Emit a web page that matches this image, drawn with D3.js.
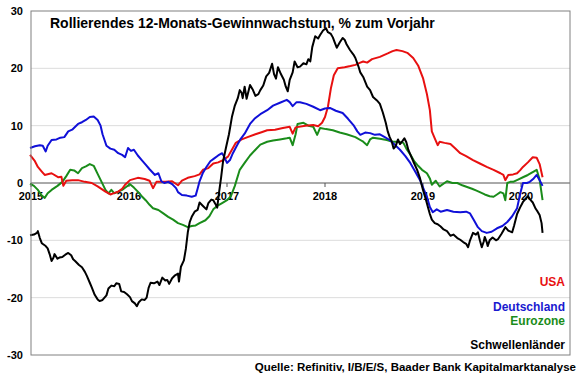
<!DOCTYPE html>
<html>
<head>
<meta charset="utf-8">
<script src="https://cdnjs.cloudflare.com/ajax/libs/d3/7.8.5/d3.min.js"></script>
<style>
  body { margin: 0; background: #fff; }
  text { font-family: "Liberation Sans", Arial, sans-serif; font-weight: bold; }
</style>
</head>
<body>
<div id="chart"></div>
<script>
// chart values, [decimal year, % yoy]
const usa = [[2014.99,4.9],[2015.04,3.8],[2015.07,2.8],[2015.11,2.0],[2015.14,1.4],[2015.21,1.7],[2015.28,1.0],[2015.31,1.1],[2015.33,-0.5],[2015.36,0.4],[2015.42,0.5],[2015.48,0.5],[2015.55,0.2],[2015.62,0.0],[2015.68,-0.6],[2015.76,-1.5],[2015.81,-2.0],[2015.84,-1.8],[2015.89,-1.5],[2015.93,-1.0],[2015.96,-0.3],[2016.01,0.5],[2016.09,0.9],[2016.16,0.7],[2016.21,0.4],[2016.245,-0.9],[2016.28,0.2],[2016.37,0.2],[2016.44,0.3],[2016.50,-0.4],[2016.54,0.4],[2016.60,0.9],[2016.67,1.2],[2016.72,1.5],[2016.755,2.3],[2016.81,2.6],[2016.86,3.4],[2016.91,3.6],[2016.96,4.0],[2017.01,4.6],[2017.05,5.8],[2017.09,7.0],[2017.15,7.6],[2017.21,8.0],[2017.29,8.5],[2017.36,8.9],[2017.41,9.2],[2017.49,9.3],[2017.57,9.6],[2017.64,9.8],[2017.67,8.6],[2017.70,9.7],[2017.80,10.0],[2017.88,10.1],[2017.93,9.9],[2017.97,10.5],[2018.00,11.5],[2018.03,13.3],[2018.06,16.5],[2018.09,18.8],[2018.13,20.0],[2018.20,20.2],[2018.26,20.4],[2018.31,20.6],[2018.36,21.0],[2018.39,21.2],[2018.43,21.0],[2018.48,21.6],[2018.56,22.0],[2018.64,22.6],[2018.69,23.0],[2018.73,23.2],[2018.79,23.0],[2018.84,22.7],[2018.90,21.8],[2018.95,20.5],[2019.00,18.3],[2019.04,15.5],[2019.07,12.7],[2019.09,9.0],[2019.12,7.8],[2019.15,6.6],[2019.17,7.2],[2019.22,7.0],[2019.28,6.8],[2019.33,6.0],[2019.38,5.2],[2019.44,4.7],[2019.51,4.0],[2019.58,3.4],[2019.65,2.8],[2019.72,2.3],[2019.79,1.7],[2019.82,1.4],[2019.84,0.5],[2019.87,1.4],[2019.92,1.5],[2019.96,1.7],[2019.99,2.2],[2020.02,2.8],[2020.07,3.6],[2020.12,4.5],[2020.16,4.4],[2020.19,3.3],[2020.22,1.0]];

const deutschland = [[2014.99,6.1],[2015.04,6.4],[2015.09,6.6],[2015.12,6.5],[2015.15,5.5],[2015.17,6.5],[2015.21,7.5],[2015.26,7.6],[2015.30,7.9],[2015.34,8.0],[2015.38,9.0],[2015.42,9.3],[2015.48,10.3],[2015.52,10.6],[2015.56,11.0],[2015.60,11.5],[2015.64,11.6],[2015.68,11.0],[2015.71,10.0],[2015.73,8.5],[2015.77,6.5],[2015.81,6.0],[2015.85,5.8],[2015.89,5.2],[2015.93,4.9],[2015.96,4.5],[2015.99,6.1],[2016.02,5.6],[2016.05,5.8],[2016.09,4.8],[2016.13,4.0],[2016.17,3.2],[2016.21,2.4],[2016.265,1.4],[2016.30,1.7],[2016.33,0.3],[2016.36,0.0],[2016.40,0.2],[2016.44,-0.2],[2016.48,-0.9],[2016.50,-1.6],[2016.54,-2.1],[2016.59,-2.2],[2016.64,-2.4],[2016.68,-2.2],[2016.70,-1.0],[2016.72,0.3],[2016.755,1.8],[2016.79,2.8],[2016.83,3.8],[2016.87,4.3],[2016.91,4.8],[2016.95,5.2],[2016.97,4.6],[2017.00,3.5],[2017.03,4.0],[2017.06,5.2],[2017.10,6.5],[2017.14,7.7],[2017.18,8.6],[2017.235,10.3],[2017.28,11.2],[2017.34,12.0],[2017.41,12.7],[2017.47,13.5],[2017.54,14.0],[2017.61,14.5],[2017.64,14.1],[2017.67,13.4],[2017.71,14.1],[2017.745,14.1],[2017.81,13.8],[2017.88,13.3],[2017.95,12.7],[2018.00,13.0],[2018.05,13.1],[2018.11,12.6],[2018.18,12.2],[2018.235,11.2],[2018.29,10.1],[2018.33,9.0],[2018.36,8.4],[2018.41,8.8],[2018.46,8.7],[2018.51,8.4],[2018.56,8.5],[2018.61,8.0],[2018.66,7.5],[2018.71,6.7],[2018.765,5.8],[2018.82,4.7],[2018.87,3.5],[2018.92,2.0],[2018.97,0.5],[2019.01,-1.2],[2019.04,-2.4],[2019.07,-4.2],[2019.10,-5.1],[2019.14,-4.6],[2019.18,-5.0],[2019.245,-4.7],[2019.31,-5.0],[2019.38,-5.1],[2019.44,-5.0],[2019.48,-5.3],[2019.52,-6.5],[2019.56,-7.7],[2019.60,-8.4],[2019.65,-8.7],[2019.70,-8.5],[2019.755,-7.9],[2019.81,-7.5],[2019.86,-6.8],[2019.91,-5.8],[2019.96,-4.4],[2019.99,-2.0],[2020.02,0.0],[2020.06,0.0],[2020.09,0.2],[2020.13,0.8],[2020.16,1.4],[2020.19,0.5],[2020.22,-0.5]];

const eurozone = [[2014.99,-0.1],[2015.03,-0.5],[2015.07,-1.2],[2015.11,-2.2],[2015.14,-2.6],[2015.17,-1.8],[2015.21,-1.2],[2015.27,-0.5],[2015.32,0.2],[2015.36,1.2],[2015.40,2.3],[2015.44,2.2],[2015.48,1.7],[2015.52,2.6],[2015.56,2.9],[2015.60,3.3],[2015.64,3.0],[2015.68,1.6],[2015.72,0.2],[2015.76,-1.2],[2015.79,-1.8],[2015.82,-1.2],[2015.85,-1.8],[2015.89,-1.5],[2015.93,-1.2],[2015.97,-0.7],[2016.01,-0.2],[2016.05,-0.8],[2016.09,-1.5],[2016.13,-2.3],[2016.17,-3.0],[2016.21,-3.8],[2016.245,-4.4],[2016.30,-4.7],[2016.35,-5.3],[2016.40,-5.9],[2016.45,-6.4],[2016.50,-7.0],[2016.55,-7.3],[2016.60,-7.7],[2016.64,-7.5],[2016.68,-7.4],[2016.72,-7.0],[2016.78,-6.5],[2016.82,-5.8],[2016.86,-4.6],[2016.90,-4.0],[2016.95,-3.5],[2017.00,-3.0],[2017.04,-2.3],[2017.08,-0.5],[2017.13,2.3],[2017.18,3.5],[2017.235,4.8],[2017.29,5.8],[2017.34,6.7],[2017.41,7.2],[2017.47,7.4],[2017.54,7.6],[2017.61,7.8],[2017.64,7.9],[2017.67,6.6],[2017.70,8.5],[2017.72,10.3],[2017.78,10.5],[2017.83,10.0],[2017.88,9.8],[2017.92,8.4],[2017.95,9.6],[2018.01,9.4],[2018.08,9.2],[2018.15,8.8],[2018.22,8.5],[2018.31,8.0],[2018.36,7.5],[2018.39,7.2],[2018.43,6.6],[2018.46,7.6],[2018.49,7.9],[2018.56,7.7],[2018.63,7.5],[2018.69,7.2],[2018.745,7.2],[2018.80,7.0],[2018.83,6.0],[2018.87,5.0],[2018.91,3.8],[2018.95,3.0],[2018.99,2.3],[2019.04,1.7],[2019.07,0.8],[2019.09,-0.3],[2019.13,0.4],[2019.17,-0.6],[2019.245,0.3],[2019.30,0.0],[2019.35,0.0],[2019.40,-0.4],[2019.45,-0.7],[2019.50,-1.0],[2019.54,-1.3],[2019.58,-1.6],[2019.63,-2.0],[2019.68,-2.3],[2019.72,-2.4],[2019.755,-2.0],[2019.79,-1.6],[2019.82,-1.8],[2019.84,-3.0],[2019.86,0.0],[2019.89,0.2],[2019.92,0.2],[2019.97,0.6],[2020.02,1.0],[2020.07,1.4],[2020.12,1.9],[2020.16,2.3],[2020.19,0.6],[2020.22,-3.0]];

const schwellen = [[2014.99,-9.1],[2015.03,-9.0],[2015.06,-8.7],[2015.07,-8.4],[2015.09,-9.6],[2015.11,-10.5],[2015.15,-11.0],[2015.17,-11.4],[2015.19,-12.4],[2015.21,-13.6],[2015.23,-13.0],[2015.24,-12.4],[2015.27,-13.2],[2015.29,-13.0],[2015.32,-12.9],[2015.35,-12.5],[2015.38,-12.2],[2015.41,-12.6],[2015.43,-13.3],[2015.45,-13.6],[2015.49,-14.3],[2015.52,-14.7],[2015.55,-15.5],[2015.57,-16.2],[2015.60,-17.4],[2015.62,-18.2],[2015.65,-19.5],[2015.68,-20.3],[2015.70,-20.6],[2015.73,-20.4],[2015.77,-19.6],[2015.79,-18.4],[2015.82,-17.9],[2015.85,-18.0],[2015.87,-17.5],[2015.90,-17.6],[2015.92,-18.9],[2015.95,-19.0],[2015.98,-19.4],[2016.01,-19.9],[2016.03,-20.6],[2016.06,-21.0],[2016.08,-21.5],[2016.10,-20.8],[2016.13,-20.3],[2016.16,-20.4],[2016.18,-20.0],[2016.20,-18.3],[2016.22,-17.4],[2016.255,-17.5],[2016.29,-17.2],[2016.31,-17.8],[2016.34,-16.5],[2016.37,-17.0],[2016.39,-16.9],[2016.41,-17.6],[2016.44,-16.6],[2016.47,-16.1],[2016.50,-15.8],[2016.51,-17.2],[2016.53,-14.6],[2016.56,-13.5],[2016.58,-11.5],[2016.60,-8.6],[2016.62,-6.8],[2016.64,-5.9],[2016.67,-5.0],[2016.70,-4.7],[2016.72,-3.4],[2016.755,-4.0],[2016.79,-4.6],[2016.81,-3.5],[2016.84,-2.9],[2016.86,-3.0],[2016.88,-3.6],[2016.90,-4.3],[2016.92,-1.5],[2016.94,1.0],[2016.96,3.8],[2016.99,6.2],[2017.02,8.5],[2017.05,11.5],[2017.08,13.5],[2017.11,14.8],[2017.13,16.2],[2017.15,15.7],[2017.16,14.8],[2017.18,16.8],[2017.20,14.7],[2017.235,17.1],[2017.265,16.2],[2017.29,15.2],[2017.32,15.5],[2017.34,16.2],[2017.37,17.0],[2017.40,18.6],[2017.43,19.2],[2017.46,20.8],[2017.48,19.0],[2017.50,18.2],[2017.52,20.2],[2017.55,19.0],[2017.58,18.0],[2017.60,16.8],[2017.62,16.0],[2017.64,18.0],[2017.67,19.3],[2017.69,21.2],[2017.72,20.2],[2017.745,20.3],[2017.78,20.9],[2017.81,20.7],[2017.83,21.6],[2017.85,21.2],[2017.87,23.7],[2017.90,25.6],[2017.93,25.2],[2017.95,25.8],[2017.98,26.6],[2018.01,27.0],[2018.03,26.3],[2018.06,26.0],[2018.08,25.4],[2018.10,24.5],[2018.12,23.6],[2018.15,24.5],[2018.18,25.3],[2018.20,25.0],[2018.22,24.2],[2018.255,23.2],[2018.29,22.4],[2018.31,21.8],[2018.34,20.4],[2018.36,19.3],[2018.39,18.5],[2018.43,16.8],[2018.46,16.2],[2018.49,15.0],[2018.53,14.4],[2018.56,13.8],[2018.59,12.3],[2018.62,10.5],[2018.64,9.0],[2018.66,8.0],[2018.68,7.3],[2018.70,6.0],[2018.72,6.4],[2018.745,7.6],[2018.765,6.8],[2018.79,7.3],[2018.81,7.8],[2018.83,7.1],[2018.85,5.8],[2018.87,5.0],[2018.90,3.8],[2018.94,2.3],[2018.97,0.8],[2019.00,-1.2],[2019.03,-2.9],[2019.05,-4.2],[2019.07,-5.4],[2019.09,-6.4],[2019.12,-7.0],[2019.15,-7.2],[2019.18,-7.6],[2019.21,-8.1],[2019.245,-8.4],[2019.28,-9.2],[2019.31,-9.0],[2019.35,-9.6],[2019.38,-9.9],[2019.41,-10.3],[2019.44,-10.6],[2019.46,-11.2],[2019.48,-10.0],[2019.51,-8.7],[2019.54,-9.0],[2019.56,-8.6],[2019.58,-10.0],[2019.60,-11.2],[2019.62,-10.2],[2019.63,-9.4],[2019.65,-10.3],[2019.66,-11.0],[2019.68,-10.0],[2019.71,-9.5],[2019.745,-10.0],[2019.765,-9.8],[2019.80,-8.9],[2019.84,-7.7],[2019.87,-8.3],[2019.91,-8.6],[2019.93,-7.4],[2019.96,-5.4],[2019.99,-4.3],[2020.02,-3.3],[2020.05,-2.7],[2020.07,-2.3],[2020.09,-2.8],[2020.12,-3.4],[2020.15,-4.5],[2020.17,-5.0],[2020.19,-5.6],[2020.21,-7.0],[2020.22,-8.7]];

const years = [2015, 2016, 2017, 2018, 2019, 2020];
const yTicks = [30, 20, 10, 0, -10, -20, -30];
const seriesNames = ["Eurozone", "USA", "Deutschland", "Schwellenländer"];
const seriesData = [eurozone, usa, deutschland, schwellen];
const seriesColors = ["#1a8c1a", "#e81010", "#1010d8", "#000000"];

const width = 580;
const height = 375;
const margin = {top: 11, right: 10, bottom: 20, left: 31};

const svg = d3.select("#chart")
  .append("svg")
  .attr("width", width)
  .attr("height", height);

const x = d3.scaleLinear()
  .domain([2015, 2020.5])
  .range([margin.left, width - margin.right]);

const y = d3.scaleLinear()
  .domain([-30, 30])
  .range([height - margin.bottom, margin.top]);

// light gridlines
svg.append("g")
  .selectAll("line")
  .data(yTicks.filter(d => d !== 0 && Math.abs(d) !== 30))
  .join("line")
  .attr("x1", x.range()[0])
  .attr("x2", x.range()[1])
  .attr("y1", d => y(d))
  .attr("y2", d => y(d))
  .attr("stroke", "#dcdcdc")
  .attr("stroke-width", 1);

// y labels
svg.append("g")
  .selectAll("text")
  .data(yTicks)
  .join("text")
  .attr("x", 23)
  .attr("y", d => y(d))
  .attr("dy", "0.36em")
  .attr("text-anchor", "end")
  .style("font-size", "11px")
  .text(d => d);

// zero line with year ticks
svg.append("line")
  .attr("x1", x.range()[0])
  .attr("x2", x.range()[1])
  .attr("y1", y(0))
  .attr("y2", y(0))
  .attr("stroke", "#555")
  .attr("stroke-width", 1);

svg.append("g")
  .selectAll("line")
  .data(years)
  .join("line")
  .attr("x1", d => x(d))
  .attr("x2", d => x(d))
  .attr("y1", y(0))
  .attr("y2", y(0) + 4)
  .attr("stroke", "#555");

svg.append("g")
  .selectAll("text")
  .data(years)
  .join("text")
  .attr("x", d => x(d))
  .attr("y", y(0) + 17)
  .attr("text-anchor", "middle")
  .style("font-size", "11px")
  .text(d => d);

// lines
const line = d3.line()
  .x(d => x(d[0]))
  .y(d => y(d[1]));

svg.append("g")
  .selectAll("path")
  .data(seriesData)
  .join("path")
  .attr("d", d => line(d))
  .attr("fill", "none")
  .attr("stroke", (d, i) => seriesColors[i])
  .attr("stroke-width", 2)
  .attr("stroke-linejoin", "round");

// frame
svg.append("rect")
  .attr("x", x.range()[0])
  .attr("y", y.range()[1])
  .attr("width", x.range()[1] - x.range()[0])
  .attr("height", y.range()[0] - y.range()[1])
  .attr("fill", "none")
  .attr("stroke", "#808080")
  .attr("stroke-width", 1);

// title
svg.append("text")
  .attr("x", 50)
  .attr("y", 28)
  .style("font-size", "14px")
  .text("Rollierendes 12-Monats-Gewinnwachstum, % zum Vorjahr");

// legend labels
const legend = [
  {name: "USA", color: "#e81010", y: 286},
  {name: "Deutschland", color: "#1a1ad0", y: 311},
  {name: "Eurozone", color: "#1a8c1a", y: 325},
  {name: "Schwellenländer", color: "#000", y: 349}
];
svg.append("g")
  .selectAll("text")
  .data(legend)
  .join("text")
  .attr("x", 565)
  .attr("y", d => d.y)
  .attr("text-anchor", "end")
  .style("font-size", "12px")
  .style("fill", d => d.color)
  .text(d => d.name);

// source
svg.append("text")
  .attr("x", 576)
  .attr("y", 371)
  .attr("text-anchor", "end")
  .style("font-size", "11.5px")
  .text("Quelle: Refinitiv, I/B/E/S, Baader Bank Kapitalmarktanalyse");
</script>
</body>
</html>
